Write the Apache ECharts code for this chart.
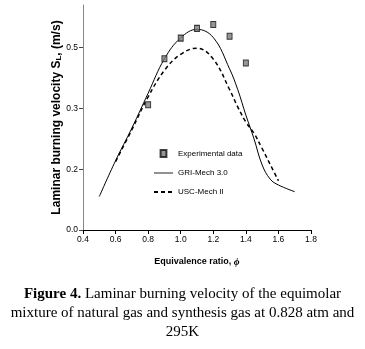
<!DOCTYPE html>
<html>
<head>
<meta charset="utf-8">
<script src="https://cdn.jsdelivr.net/npm/echarts@6/dist/echarts.min.js"></script>
<style>
html,body{margin:0;padding:0;background:#fff;}
#c{width:365px;height:349px;}
</style>
</head>
<body>
<div id="c"></div>
<script>
// ---- data ----
var expX = [0.8, 0.9, 1.0, 1.1, 1.2, 1.3, 1.4];
var expY = [0.412, 0.563, 0.631, 0.663, 0.676, 0.637, 0.549];

var griX = [0.5, 0.6, 0.7, 0.8, 0.9, 1.0, 1.1, 1.2, 1.3, 1.35, 1.4, 1.45, 1.5, 1.55, 1.6, 1.7];
var griY = [0.110, 0.228, 0.335, 0.450, 0.563, 0.632, 0.660, 0.633, 0.530, 0.462, 0.378, 0.300, 0.214, 0.167, 0.148, 0.126];

var uscX = [0.6, 0.7, 0.8, 0.9, 1.0, 1.1, 1.2, 1.3, 1.35, 1.4, 1.45, 1.5, 1.55, 1.6];
var uscY = [0.225, 0.330, 0.438, 0.525, 0.578, 0.598, 0.562, 0.462, 0.405, 0.355, 0.318, 0.268, 0.215, 0.162];

var seriesNames = ['Experimental data', 'GRI-Mech 3.0', 'USC-Mech II'];

var yTickValues = [0, 0.2, 0.4, 0.6];
var yTickLabels = ['0.0', '0.2', '0.3', '0.5'];

var captionLines = [
  '{b|Figure 4.} Laminar burning velocity of the equimolar',
  'mixture of natural gas and synthesis gas at 0.828 atm and',
  '295K'
];

function zip(xs, ys) { return xs.map(function (x, i) { return [x, ys[i]]; }); }

var sans = '"Liberation Sans", Arial, sans-serif';
var serif = '"Liberation Serif", "Times New Roman", serif';

var chart = echarts.init(document.getElementById('c'), null, { renderer: 'canvas' });

var captionGraphics = captionLines.map(function (t, i) {
  return {
    type: 'text',
    left: 'center',
    top: 287 + i * 19,
    style: {
      text: t,
      font: '15px ' + serif,
      fill: '#000',
      rich: { b: { fontFamily: serif, fontWeight: 'bold', fontSize: 15, fill: '#000' } }
    }
  };
});

chart.setOption({
  animation: false,
  backgroundColor: '#fff',
  grid: { left: 83, right: 54, top: 5, bottom: 119 },
  xAxis: {
    type: 'value',
    min: 0.4, max: 1.8, interval: 0.2,
    name: 'Equivalence ratio, {i|ϕ}',
    nameLocation: 'middle',
    nameGap: 27,
    nameMoveOverlap: false,
    nameTextStyle: {
      fontFamily: sans, fontSize: 9, fontWeight: 'bold', color: '#000',
      rich: { i: { fontFamily: serif, fontStyle: 'italic', fontWeight: 'bold', fontSize: 10, color: '#000' } }
    },
    axisLine: { lineStyle: { color: '#000', width: 1 } },
    axisTick: { show: true, inside: false, length: 4, lineStyle: { color: '#000' } },
    axisLabel: {
      fontFamily: sans, fontSize: 8.5, color: '#000', margin: 5,
      formatter: function (v) { return v.toFixed(1); }
    },
    splitLine: { show: false }
  },
  yAxis: {
    type: 'value',
    min: 0, max: 0.74,
    name: 'Laminar burning velocity S{sub|L}, (m/s)',
    nameLocation: 'middle',
    nameGap: 20,
    nameMoveOverlap: false,
    nameTextStyle: {
      fontFamily: sans, fontSize: 12, fontWeight: 'bold', color: '#000',
      rich: { sub: { fontFamily: sans, fontSize: 8, fontWeight: 'bold', color: '#000', padding: [5, 0, 0, 0] } }
    },
    axisLine: { show: true, lineStyle: { color: '#888', width: 1 } },
    axisTick: { show: true, inside: false, length: 4, customValues: yTickValues, lineStyle: { color: '#444' } },
    axisLabel: {
      fontFamily: sans, fontSize: 8.5, color: '#000', margin: 5,
      customValues: yTickValues,
      formatter: function (v) {
        for (var i = 0; i < yTickValues.length; i++) {
          if (Math.abs(yTickValues[i] - v) < 1e-6) return yTickLabels[i];
        }
        return '';
      }
    },
    splitLine: { show: false }
  },
  legend: {
    orient: 'vertical',
    left: 153, top: 149,
    itemWidth: 19, itemHeight: 7, itemGap: 11,
    padding: 0,
    symbolKeepAspect: true,
    textStyle: { fontFamily: sans, fontSize: 8, color: '#000' },
    data: [
      { name: seriesNames[0], icon: 'path://M0,0H5V6H0Z' },
      { name: seriesNames[1], itemStyle: { opacity: 0 }, lineStyle: { color: '#555', width: 1.3 } },
      { name: seriesNames[2], itemStyle: { opacity: 0 } }
    ]
  },
  series: [
    {
      name: seriesNames[0],
      type: 'scatter',
      data: zip(expX, expY),
      symbol: 'rect',
      symbolSize: [5, 6],
      itemStyle: { color: '#7a7a7a', borderColor: '#111', borderWidth: 1 },
      z: 5
    },
    {
      name: seriesNames[1],
      type: 'line',
      data: zip(griX, griY),
      smooth: 0.4,
      showSymbol: false,
      symbol: 'none',
      lineStyle: { color: '#000', width: 1 },
      itemStyle: { color: '#000' }
    },
    {
      name: seriesNames[2],
      type: 'line',
      data: zip(uscX, uscY),
      smooth: 0.4,
      showSymbol: false,
      symbol: 'none',
      lineStyle: { color: '#000', width: 1.5, type: [4, 3] },
      itemStyle: { color: '#000' }
    }
  ],
  graphic: captionGraphics
});
</script>
</body>
</html>
